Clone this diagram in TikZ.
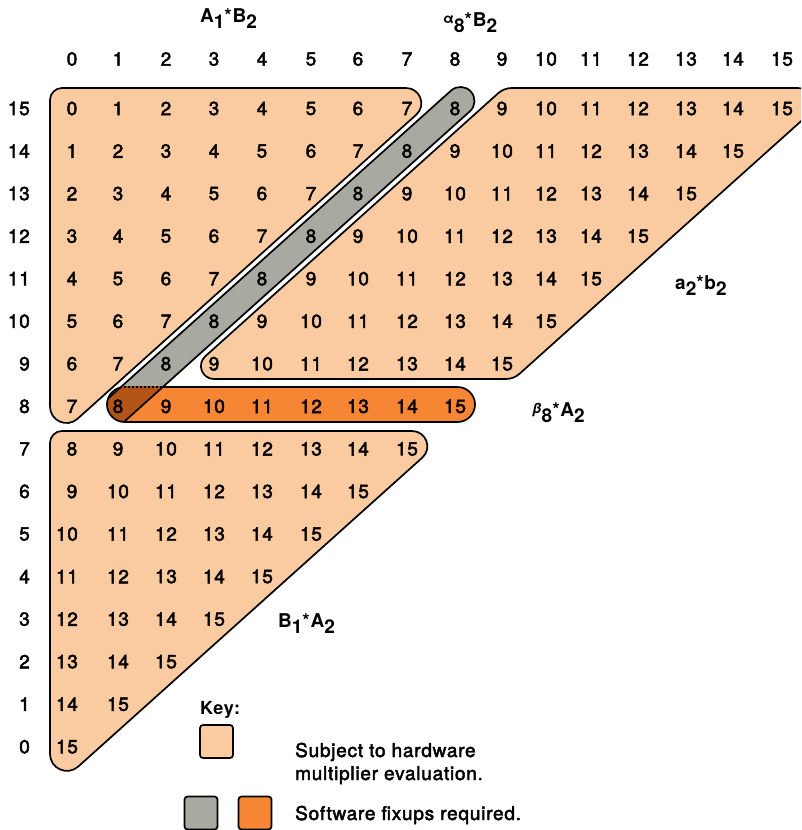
\documentclass[tikz,border=0pt]{standalone}
\usepackage{fontspec}
\setmainfont{TeX Gyre Heros}[LetterSpace=4]
\newfontfamily\medfont{TeX Gyre Heros}[LetterSpace=4,FakeBold=2.5]
\usetikzlibrary{calc}
\definecolor{peach}{RGB}{250,203,160}
\definecolor{orng}{RGB}{246,134,52}
\definecolor{grayband}{RGB}{168,170,162}
\definecolor{darkov}{RGB}{178,84,22}
\newcommand\sbs[1]{\raisebox{-6pt}{#1}}
\begin{document}
\begin{tikzpicture}[x=1pt,y=1pt,
  outl/.style={draw=black, line width=1.7pt, line join=round},
  rcorner/.style n args={5}{insert path={-- ($(#2)!#4!(#1)$) .. controls ($(#2)!#5!(#1)$) and ($(#2)!#5!(#3)$) .. ($(#2)!#4!(#3)$)}},
  num/.style={font=\fontsize{19}{22}\selectfont\medfont, inner sep=0pt},
  lab/.style={font=\fontsize{19}{22}\selectfont\medfont, anchor=base west, inner sep=0pt},
  title/.style={font=\fontsize{19}{22}\selectfont\bfseries, anchor=base west, inner sep=0pt},
  keysq/.style={draw=black, line width=1.7pt, rounded corners=3pt, minimum width=33pt, minimum height=33pt, inner sep=0pt},
]
\clip (0,0) rectangle (801,-830);
\useasboundingbox (0,0) rectangle (801,-830);

% corner points
\coordinate (aTL) at (50,-88);
\coordinate (aTR) at (446,-88);
\coordinate (aB) at (50,-443.5);
\coordinate (cTL) at (504,-88);
\coordinate (cTR) at (838,-88);
\coordinate (cBR) at (513.7,-379);
\coordinate (cBL) at (180,-379);
\coordinate (bTL) at (50,-431);
\coordinate (bTR) at (452,-431);
\coordinate (bB) at (50,-791.9);

% A1*B2 triangle
\draw[outl, fill=peach] (50,-265) [rcorner={aB}{aTL}{aTR}{12pt}{5.4pt}]
  [rcorner={aTL}{aTR}{aB}{40pt}{25.9pt}] [rcorner={aTR}{aB}{aTL}{37pt}{22.7pt}] -- cycle;
% a2*b2 parallelogram
\draw[outl, fill=peach] (670,-88) [rcorner={cTL}{cTR}{cBR}{40pt}{25.9pt}]
  [rcorner={cTR}{cBR}{cBL}{8pt}{2.85pt}] [rcorner={cBR}{cBL}{cTL}{34pt}{22pt}]
  [rcorner={cBL}{cTL}{cTR}{8pt}{2.85pt}] -- cycle;
% B1*A2 triangle
\draw[outl, fill=peach] (50,-611) [rcorner={bB}{bTL}{bTR}{12pt}{5.4pt}]
  [rcorner={bTL}{bTR}{bB}{40pt}{25.9pt}] [rcorner={bTR}{bB}{bTL}{38pt}{23.3pt}] -- cycle;

% gray diagonal band
\begin{scope}
\clip (0,-387) rectangle (801,0);
\draw[outl, fill=grayband, rounded corners=14pt, shift={(100,-424.6)}, rotate=41.92]
  (240,-14) -- (498.5,-14) -- (498.5,14) -- (-14,14) -- (-14,-14) -- cycle;
\end{scope}

% orange band
\fill[orng, rounded corners=17.5pt] (107,-422) rectangle (475,-387);
\begin{scope}
\clip[rounded corners=17.5pt] (107,-422) rectangle (475,-387);
\draw[outl, fill=darkov, rounded corners=14pt, shift={(100,-424.6)}, rotate=41.92]
  (240,-14) -- (498.5,-14) -- (498.5,14) -- (-14,14) -- (-14,-14) -- cycle;
\end{scope}
\draw[outl, rounded corners=17.5pt] (107,-422) rectangle (475,-387);
\draw[orng!60!black, line width=1.2pt, dash pattern=on 2pt off 2pt] (122,-387) -- (162,-387);

% cell numbers
\foreach \r in {0,...,15} {
  \foreach \c in {0,...,\r} {
    \pgfmathtruncatemacro\v{\c+15-\r}
    \pgfmathsetmacro\xx{{72,118,166,214,262,311,358,407,455,502,546,591,638,686,733,782}[\c]}
    \pgfmathsetmacro\yy{-(108.5+42.55*(15-\r))}
    \ifnum\c=0 \ifnum\v>9 \def\xx{67}\fi\fi
    \node[num] (n\r-\c) at (\xx,\yy) {\v};
  }
}
% column headers
\foreach \c in {0,...,15} {
  \pgfmathsetmacro\xx{{72,118,166,214,262,311,358,407,455,502,546,591,638,686,733,782}[\c]}
  \node[num] (h\c) at (\xx,-59) {\c};
}
% row labels
\foreach \r in {0,...,15} {
  \pgfmathsetmacro\yy{-(108.5+42.55*(15-\r))}
  \node[num, anchor=east] (r\r) at (30,\yy) {\r};
}

% region labels
\node[title] (lAB) at (200,-22) {A\sbs{1}*B\sbs{2}};
\node[title] (lalpha) at (443,-26) {\raisebox{3pt}{\fontsize{14}{14}\selectfont α}\sbs{8}*B\sbs{2}};
\node[title] (lab2) at (675,-289) {a\sbs{2}*b\sbs{2}};
\node[title] (lbeta) at (532,-416) {\raisebox{3pt}{\fontsize{14}{14}\selectfont\itshape β}\sbs{8}*A\sbs{2}};
\node[title] (lBA) at (278,-627) {B\sbs{1}*A\sbs{2}};

% key
\node[title, font=\fontsize{18}{22}\selectfont\bfseries] (key) at (200,-714) {Key:};
\node[keysq, fill=peach] (kpeach) at (216.5,-741.5) {};
\node[keysq, fill=grayband] (kgray) at (201,-813) {};
\node[keysq, fill=orng] (korange) at (255,-813) {};
\node[lab] (t1) at (295,-757) {Subject to hardware};
\node[lab] (t2) at (295,-780) {multiplier evaluation.};
\node[lab] (t3) at (295,-820) {Software fixups required.};
\end{tikzpicture}
\end{document}
